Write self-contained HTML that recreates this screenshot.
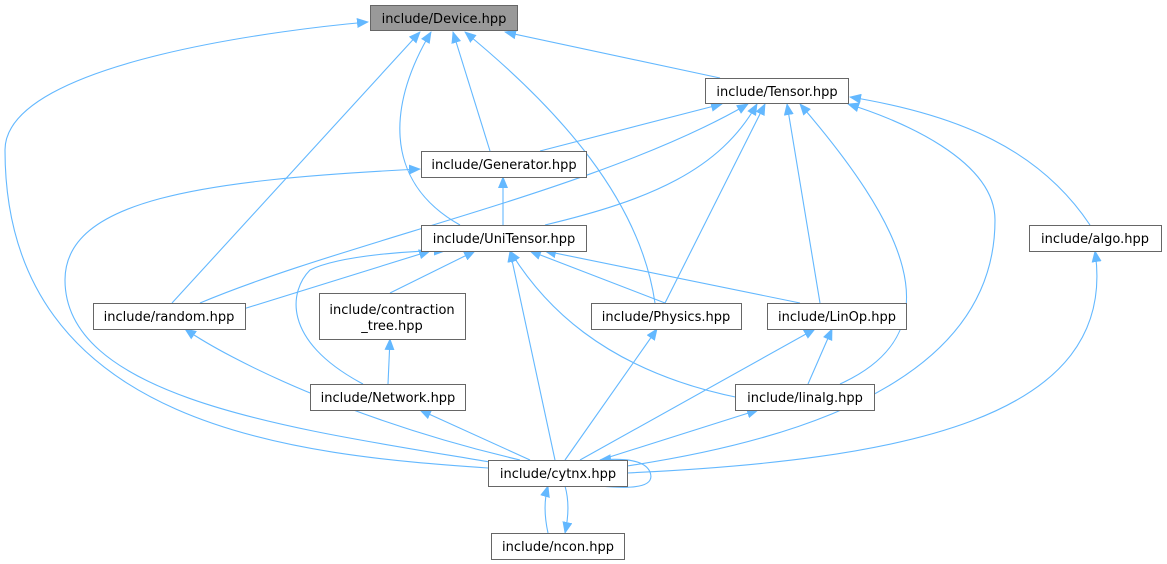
<!DOCTYPE html>
<html><head><meta charset="utf-8"><style>
html,body{margin:0;padding:0;background:#fff;}
svg{display:block;}
text{font-family:"DejaVu Sans","Liberation Sans",sans-serif;font-size:13px;fill:#000;}
</style></head><body>
<svg width="1167" height="564" viewBox="0 0 1167 564" xmlns="http://www.w3.org/2000/svg">
<defs>
<marker id="a" markerWidth="12" markerHeight="10" refX="11" refY="5" orient="auto" markerUnits="userSpaceOnUse">
<path d="M0,0 L12,5 L0,10 Z" fill="#63b8ff"/>
</marker>
</defs>
<g fill="none" stroke="#63b8ff" stroke-width="1.1" marker-end="url(#a)">
<path d="M488,468 C300,455 5,430 5,150 C5,60 300,28 368,22"/>
<path d="M720,78 L505,32"/>
<path d="M490,151 L453,32"/>
<path d="M460,225 C380,180 390,100 431,32"/>
<path d="M172,303 L420,32"/>
<path d="M655,303 C640,200 560,110 465,32"/>
<path d="M540,151 L722,104"/>
<path d="M200,303 C350,240 600,190 748,104"/>
<path d="M545,225 C650,200 720,170 757,104"/>
<path d="M665,303 L765,104"/>
<path d="M820,303 L787,104"/>
<path d="M840,384 C960,330 900,220 800,104"/>
<path d="M627,466 C800,440 995,380 995,220 C995,160 900,120 848,104"/>
<path d="M1090,225 C1040,150 960,115 850,97"/>
<path d="M490,462 C300,430 65,400 65,280 C65,200 200,180 420,169"/>
<path d="M503,225 L503,177"/>
<path d="M240,310 L430,251"/>
<path d="M390,293 L475,251"/>
<path d="M363,384 C280,340 290,290 310,270 C340,255 420,250 445,251"/>
<path d="M665,303 L530,251"/>
<path d="M800,303 L545,251"/>
<path d="M740,398 C600,370 540,300 510,251"/>
<path d="M555,460 L510,251"/>
<path d="M520,460 C350,420 230,360 185,329"/>
<path d="M388,384 L390,339"/>
<path d="M530,460 L420,410"/>
<path d="M565,460 L657,329"/>
<path d="M580,460 L815,329"/>
<path d="M808,384 L832,329"/>
<path d="M600,460 L758,410"/>
<path d="M627,473 C900,460 1120,420 1095,251"/>
<path d="M600,486 C640,490 655,485 650,472 C645,460 625,458 600,460"/>
<path d="M548,533 C544,515 544,500 548,486"/>
<path d="M565,486 C569,500 569,515 565,533"/>
</g>
<g stroke="#666" stroke-width="1" fill="#fff">
<rect x="370.5" y="5.5" width="147" height="25" fill="#999"/>
<rect x="705.5" y="78.5" width="143" height="25"/>
<rect x="421.5" y="151.5" width="165" height="26"/>
<rect x="421.5" y="225.5" width="165" height="26"/>
<rect x="1029.5" y="225.5" width="132" height="26"/>
<rect x="93.5" y="303.5" width="152" height="26"/>
<rect x="319.5" y="293.5" width="146" height="46"/>
<rect x="591.5" y="303.5" width="150" height="26"/>
<rect x="767.5" y="303.5" width="139" height="26"/>
<rect x="310.5" y="384.5" width="155" height="26"/>
<rect x="735.5" y="384.5" width="139" height="26"/>
<rect x="488.5" y="460.5" width="139" height="26"/>
<rect x="491.5" y="533.5" width="133" height="26"/>
</g>
<g text-anchor="middle">
<text x="444" y="23">include/Device.hpp</text>
<text x="777" y="96">include/Tensor.hpp</text>
<text x="504" y="169">include/Generator.hpp</text>
<text x="504" y="243">include/UniTensor.hpp</text>
<text x="1095" y="243">include/algo.hpp</text>
<text x="169" y="321">include/random.hpp</text>
<text x="392" y="314">include/contraction</text>
<text x="392" y="330">_tree.hpp</text>
<text x="666" y="321">include/Physics.hpp</text>
<text x="837" y="321">include/LinOp.hpp</text>
<text x="388" y="402">include/Network.hpp</text>
<text x="805" y="402">include/linalg.hpp</text>
<text x="558" y="478">include/cytnx.hpp</text>
<text x="558" y="551">include/ncon.hpp</text>
</g>
</svg>
</body></html>
